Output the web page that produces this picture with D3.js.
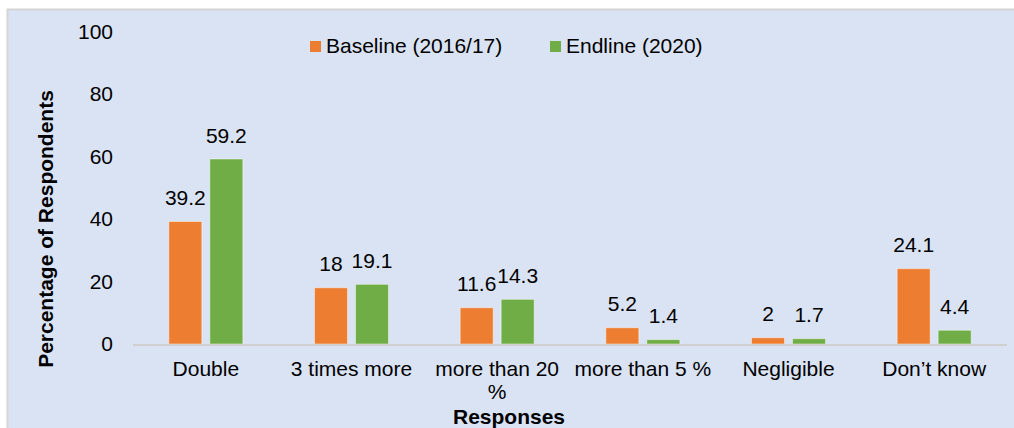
<!DOCTYPE html>
<html>
<head>
<meta charset="utf-8">
<script src="https://cdn.jsdelivr.net/npm/d3@7"></script>
<style>
  html, body { margin: 0; padding: 0; background: #ffffff; }
  svg { display: block; font-family: "Liberation Sans", Arial, sans-serif; }
</style>
</head>
<body>
<svg id="chart" width="1014" height="428"></svg>
<script>
// Responses to the survey question, by survey round
const categories = ["Double", "3 times more", "more than 20 %", "more than 5 %", "Negligible", "Don\u2019t know"];
const seriesNames = ["Baseline (2016/17)", "Endline (2020)"];
const baseline = [39.2, 18, 11.6, 5.2, 2, 24.1];
const endline = [59.2, 19.1, 14.3, 1.4, 1.7, 4.4];
const yTicks = [0, 20, 40, 60, 80, 100];
const colors = ["#ed7d31", "#70ad47"];

const svg = d3.select("#chart");
const W = 1014, H = 428;
const plot = { left: 133, right: 1007, top: 31.5, bottom: 344 };
const FS = "21px";

// chart area background
svg.append("rect")
  .attr("x", 7.5).attr("y", 9.5)
  .attr("width", W).attr("height", H)
  .attr("fill", "#dae3f3")
  .attr("stroke", "#d4d4d4").attr("stroke-width", 2);

const x0 = d3.scaleBand().domain(categories).range([plot.left, plot.right]).padding(0);
const y = d3.scaleLinear().domain([0, 100]).range([plot.bottom, plot.top]);

// two bars per category, centred in the band
const groupHalf = 37;
const x1 = d3.scaleBand().domain(seriesNames).range([-groupHalf, groupHalf]).paddingInner(8 / 41).paddingOuter(0);

const rows = categories.map((c, i) => ({ cat: c, values: [baseline[i], endline[i]] }));

// y axis labels (no axis line)
const yAxis = svg.append("g")
  .attr("transform", `translate(${plot.left - 20},0)`)
  .call(d3.axisLeft(y).tickValues(yTicks).tickSize(0).tickPadding(0));
yAxis.select(".domain").remove();
yAxis.selectAll("text")
  .attr("font-size", FS)
  .attr("font-family", "Liberation Sans, Arial, sans-serif")
  .attr("fill", "#000");

// bars
const groups = svg.append("g").selectAll("g")
  .data(rows).join("g")
  .attr("transform", d => `translate(${x0(d.cat) + x0.bandwidth() / 2},0)`);

groups.selectAll("rect")
  .data(d => d.values.map((v, j) => ({ s: seriesNames[j], v, j })))
  .join("rect")
  .attr("x", d => x1(d.s))
  .attr("y", d => y(d.v))
  .attr("width", x1.bandwidth())
  .attr("height", d => y(0) - y(d.v))
  .attr("fill", d => colors[d.j])
  .attr("stroke", "#ffffff").attr("stroke-opacity", 0.45).attr("stroke-width", 1);

// value labels
groups.selectAll("text.val")
  .data(d => d.values.map((v, j) => ({ s: seriesNames[j], v, j })))
  .join("text")
  .attr("class", "val")
  .attr("x", d => x1(d.s) + x1.bandwidth() / 2)
  .attr("y", d => y(d.v) - 16.5)
  .attr("text-anchor", "middle")
  .attr("font-size", FS)
  .attr("fill", "#000")
  .text(d => d.v);

// x axis baseline
svg.append("line")
  .attr("x1", plot.left).attr("x2", plot.right)
  .attr("y1", y(0) + 1).attr("y2", y(0) + 1)
  .attr("stroke", "#d0d0d0").attr("stroke-width", 2);

// category labels, wrapped where they exceed the band
const xAxis = svg.append("g")
  .attr("transform", `translate(0,${plot.bottom})`)
  .call(d3.axisBottom(x0).tickSize(0).tickPadding(0).tickFormat(() => ""));
xAxis.select(".domain").remove();
xAxis.selectAll(".tick").each(function(d) {
  const t = d3.select(this).append("text")
    .attr("text-anchor", "middle")
    .attr("font-size", FS)
    .attr("fill", "#000")
    .attr("y", 32);
  const lines = d === "more than 20 %" ? ["more than 20", "%"] : [d];
  lines.forEach((ln, k) => {
    t.append("tspan").attr("x", 0).attr("dy", k === 0 ? 0 : 23).text(ln);
  });
});

// axis titles
svg.append("text")
  .attr("transform", `translate(53,229) rotate(-90)`)
  .attr("text-anchor", "middle")
  .attr("font-size", "21px").attr("font-weight", "bold")
  .attr("fill", "#000")
  .text("Percentage of Respondents");

svg.append("text")
  .attr("x", 509).attr("y", 424)
  .attr("text-anchor", "middle")
  .attr("font-size", "21px").attr("font-weight", "bold")
  .attr("fill", "#000")
  .text("Responses");

// legend
const legendX = [310, 550];
const legend = svg.append("g").selectAll("g")
  .data(seriesNames).join("g")
  .attr("transform", (d, i) => `translate(${legendX[i]},0)`);
legend.append("rect")
  .attr("x", 0).attr("y", 41).attr("width", 11).attr("height", 11)
  .attr("fill", (d, i) => colors[i]);
legend.append("text")
  .attr("x", 16).attr("y", 52.5)
  .attr("font-size", FS)
  .attr("fill", "#000")
  .text(d => d);
</script>
</body>
</html>
